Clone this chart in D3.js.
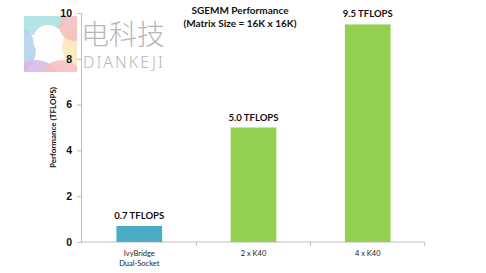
<!DOCTYPE html>
<html>
<head>
<meta charset="utf-8">
<script src="https://cdn.jsdelivr.net/npm/d3@7"></script>
<style>
  body { margin: 0; background: #fff; }
  svg { display: block; font-family: Lato, "Open Sans", sans-serif; }
</style>
</head>
<body>
<script>
var w = 486;
var h = 273;

var categories = ['IvyBridge\nDual-Socket', '2 x K40', '4 x K40'];
var values = [0.7, 5.0, 9.5];
var valueLabels = ['0.7 TFLOPS', '5.0 TFLOPS', '9.5 TFLOPS'];
var barColors = ['#4bacc6', '#92d050', '#92d050'];
var yTicks = [0, 2, 4, 6, 8, 10];
var titleLines = ['SGEMM Performance', '(Matrix Size = 16K x 16K)'];

var svg = d3.select('body')
.append('svg')
.attr('width', w)
.attr('height', h);

var x = d3.scaleBand()
.domain(categories)
.range([81, 426])
.paddingInner(0.6)
.paddingOuter(0.31);

var y = d3.scaleLinear()
.domain([0, 10])
.range([242, 13]);

// watermark logo (drawn under the chart)
var wm = svg.append('g').attr('opacity', 0.55);
wm.append('clipPath').attr('id', 'logoclip')
.append('rect').attr('x', 24).attr('y', 16).attr('width', 53).attr('height', 56);
var logo = wm.append('g').attr('clip-path', 'url(#logoclip)');
[
    {cx: 40, cy: 6, r: 30, c: '#5fc7c7'},
    {cx: 10, cy: 50, r: 26, c: '#6fa8dc'},
    {cx: 36, cy: 86, r: 26, c: '#b37fd0'},
    {cx: 62, cy: 84, r: 24, c: '#f08a8a'},
    {cx: 82, cy: 46, r: 20, c: '#f7d27a'},
    {cx: 74, cy: 26, r: 15, c: '#ee8888'}
].forEach(function(s) {
    logo.append('circle').attr('cx', s.cx).attr('cy', s.cy).attr('r', s.r).attr('fill', s.c).attr('opacity', 0.85);
});
logo.append('circle').attr('cx', 48).attr('cy', 40).attr('r', 15).attr('fill', '#fff');

// y axis
var yAxis = svg.append('g')
.attr('transform', 'translate(81,0)')
.call(d3.axisLeft(y).tickValues(yTicks).tickSize(4).tickPadding(5));
yAxis.select('.domain').attr('stroke', '#bfbfbf');
yAxis.selectAll('.tick line').attr('stroke', '#bfbfbf');
yAxis.selectAll('.tick text')
.attr('font-size', 10.5)
.attr('font-weight', 'bold')
.attr('fill', '#111');

// x axis baseline with ticks at category boundaries
var step = x.step();
var bounds = categories.map(function(c) { return x(c) + x.bandwidth() / 2 + step / 2; });
svg.append('line')
.attr('x1', 81).attr('x2', bounds[bounds.length - 1])
.attr('y1', y(0)).attr('y2', y(0))
.attr('stroke', '#bfbfbf');
svg.selectAll('.xtick')
.data(bounds)
.enter().append('line')
.attr('class', 'xtick')
.attr('x1', function(d) { return d; })
.attr('x2', function(d) { return d; })
.attr('y1', y(0))
.attr('y2', y(0) + 4)
.attr('stroke', '#bfbfbf');

// category labels
svg.selectAll('.xlabel')
.data(categories)
.enter().append('text')
.attr('class', 'xlabel')
.attr('text-anchor', 'middle')
.attr('font-size', 7.5)
.attr('fill', '#222')
.each(function(d) {
    var t = d3.select(this);
    d.split('\n').forEach(function(line, i) {
        t.append('tspan')
        .attr('x', x(d) + x.bandwidth() / 2)
        .attr('y', 256 + i * 10)
        .text(line);
    });
});

// bars
svg.selectAll('.bar')
.data(values)
.enter().append('rect')
.attr('class', 'bar')
.attr('x', function(d, i) { return x(categories[i]); })
.attr('y', function(d) { return y(d); })
.attr('width', x.bandwidth())
.attr('height', function(d) { return y(0) - y(d); })
.attr('fill', function(d, i) { return barColors[i]; });

// value labels
svg.selectAll('.vlabel')
.data(values)
.enter().append('text')
.attr('class', 'vlabel')
.attr('x', function(d, i) { return x(categories[i]) + x.bandwidth() / 2; })
.attr('y', function(d) { return y(d) - 7; })
.attr('text-anchor', 'middle')
.attr('font-size', 9.5)
.attr('font-weight', 'bold')
.attr('fill', '#111')
.text(function(d, i) { return valueLabels[i]; });

// y axis title
svg.append('text')
.attr('transform', 'translate(56,' + y(5) + ')rotate(-90)')
.attr('text-anchor', 'middle')
.attr('font-size', 8)
.attr('font-weight', 'bold')
.attr('fill', '#111')
.text('Performance (TFLOPS)');

// chart title
svg.selectAll('.title')
.data(titleLines)
.enter().append('text')
.attr('class', 'title')
.attr('x', 240)
.attr('y', function(d, i) { return 14 + i * 13; })
.attr('text-anchor', 'middle')
.attr('font-size', 10)
.attr('font-weight', 'bold')
.attr('fill', '#111')
.text(function(d) { return d; });

// watermark text
var wt = svg.append('g').attr('opacity', 0.6);
wt.append('text')
.attr('x', 81).attr('y', 45)
.attr('font-size', 28)
.attr('font-family', '"Noto Sans CJK SC", sans-serif')
.attr('font-weight', 300)
.attr('fill', '#888')
.text('电科技');
wt.append('text')
.attr('x', 83).attr('y', 68)
.attr('font-size', 16)
.attr('font-family', '"Noto Sans", sans-serif')
.attr('font-weight', 300)
.attr('fill', '#888')
.attr('letter-spacing', 2)
.text('DIANKEJI');
</script>
</body>
</html>
